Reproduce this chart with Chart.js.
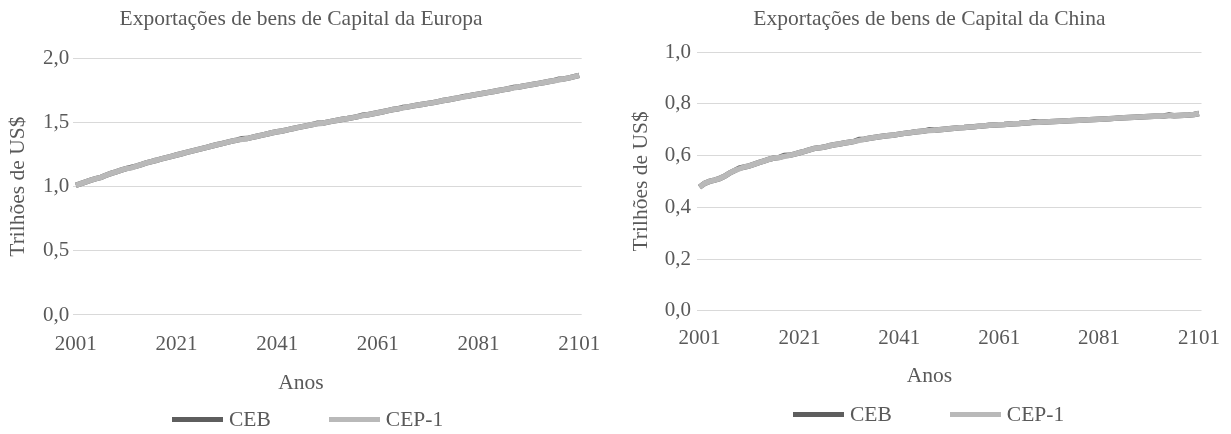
<!DOCTYPE html>
<html lang="pt">
<head>
<meta charset="utf-8">
<script src="https://cdn.jsdelivr.net/npm/chart.js@4.4.1/dist/chart.umd.min.js"></script>
<style>
  html, body { margin: 0; padding: 0; background: #fff; width: 1231px; height: 434px; overflow: hidden; }
  body { position: relative; }
  .panel { position: absolute; top: 0; height: 434px; }
  .panel canvas { display: block; }
  .legend { position: absolute; display: flex; align-items: center; height: 24px;
            font: 21.5px/24px 'Liberation Serif', 'Times New Roman', serif; color: #595959; white-space: nowrap; }
  .legend .item { display: flex; align-items: center; }
  .legend .item + .item { margin-left: 58px; }
  .legend .sw { display: inline-block; width: 51px; height: 5px; margin-right: 6px; }
</style>
</head>
<body>
<div class="panel" style="left:0;width:602px"><canvas id="chartEuropa" width="602" height="434"></canvas></div>
<div class="panel" style="left:624px;width:607px"><canvas id="chartChina" width="607" height="434"></canvas></div>
<div class="legend" id="legendEuropa" style="left:172px;top:407px"></div>
<div class="legend" id="legendChina" style="left:793px;top:402px"></div>

<script>
// Anos da projeção (2001 a 2101)
const firstYear = 2001;
const lastYear = 2101;
const years = Array.from({ length: lastYear - firstYear + 1 }, (_, i) => String(firstYear + i));

const seriesNames = ['CEB', 'CEP-1'];
const xTickLabels = ['2001', '2021', '2041', '2061', '2081', '2101'];
const yTicksEuropa = ['0,0', '0,5', '1,0', '1,5', '2,0'];
const yTicksChina = ['0,0', '0,2', '0,4', '0,6', '0,8', '1,0'];

// Exportações de bens de capital da Europa (trilhões de US$)
const europaCEB = [
  1.010, 1.024, 1.037, 1.050, 1.062, 1.072, 1.088, 1.103, 1.115, 1.128,
  1.140, 1.150, 1.160, 1.172, 1.184, 1.195, 1.205, 1.216, 1.226, 1.236,
  1.246, 1.256, 1.266, 1.276, 1.286, 1.296, 1.306, 1.316, 1.326, 1.335,
  1.345, 1.354, 1.362, 1.372, 1.374, 1.383, 1.392, 1.401, 1.410, 1.419,
  1.427, 1.433, 1.442, 1.451, 1.459, 1.467, 1.475, 1.483, 1.493, 1.494,
  1.502, 1.510, 1.517, 1.524, 1.530, 1.537, 1.545, 1.556, 1.560, 1.567,
  1.575, 1.583, 1.592, 1.600, 1.606, 1.617, 1.621, 1.629, 1.636, 1.642,
  1.648, 1.654, 1.662, 1.670, 1.677, 1.684, 1.691, 1.701, 1.706, 1.713,
  1.720, 1.727, 1.734, 1.741, 1.748, 1.755, 1.762, 1.773, 1.776, 1.783,
  1.790, 1.797, 1.804, 1.811, 1.818, 1.825, 1.836, 1.839, 1.847, 1.856,
  1.866
];
const europaCEP1 = [
  1.010, 1.024, 1.037, 1.050, 1.062, 1.072, 1.088, 1.103, 1.115, 1.128,
  1.140, 1.146, 1.160, 1.172, 1.184, 1.195, 1.205, 1.216, 1.226, 1.236,
  1.246, 1.256, 1.266, 1.276, 1.286, 1.296, 1.306, 1.316, 1.326, 1.335,
  1.345, 1.354, 1.362, 1.368, 1.374, 1.383, 1.392, 1.401, 1.410, 1.419,
  1.427, 1.433, 1.442, 1.451, 1.459, 1.467, 1.475, 1.483, 1.489, 1.494,
  1.502, 1.510, 1.517, 1.524, 1.530, 1.537, 1.545, 1.553, 1.560, 1.567,
  1.575, 1.583, 1.592, 1.600, 1.606, 1.613, 1.621, 1.629, 1.636, 1.642,
  1.648, 1.654, 1.662, 1.670, 1.677, 1.684, 1.691, 1.698, 1.706, 1.713,
  1.720, 1.727, 1.734, 1.741, 1.748, 1.755, 1.762, 1.769, 1.776, 1.783,
  1.790, 1.797, 1.804, 1.811, 1.818, 1.825, 1.832, 1.839, 1.847, 1.856,
  1.866
];

// Exportações de bens de capital da China (trilhões de US$)
const chinaCEB = [
  0.478, 0.492, 0.500, 0.505, 0.511, 0.520, 0.532, 0.542, 0.552, 0.556,
  0.560, 0.567, 0.574, 0.580, 0.586, 0.591, 0.593, 0.600, 0.601, 0.606,
  0.611, 0.616, 0.622, 0.628, 0.630, 0.633, 0.638, 0.642, 0.645, 0.649,
  0.652, 0.655, 0.662, 0.663, 0.667, 0.670, 0.673, 0.676, 0.678, 0.680,
  0.683, 0.686, 0.688, 0.691, 0.693, 0.695, 0.700, 0.698, 0.700, 0.702,
  0.704, 0.706, 0.708, 0.709, 0.711, 0.712, 0.714, 0.715, 0.717, 0.718,
  0.719, 0.720, 0.722, 0.723, 0.724, 0.726, 0.727, 0.731, 0.729, 0.730,
  0.731, 0.732, 0.733, 0.734, 0.735, 0.736, 0.737, 0.738, 0.739, 0.740,
  0.741, 0.742, 0.743, 0.744, 0.745, 0.746, 0.747, 0.748, 0.749, 0.750,
  0.751, 0.752, 0.752, 0.753, 0.757, 0.754, 0.755, 0.756, 0.757, 0.759,
  0.763
];
const chinaCEP1 = [
  0.478, 0.492, 0.500, 0.505, 0.511, 0.520, 0.532, 0.542, 0.549, 0.556,
  0.560, 0.567, 0.574, 0.580, 0.586, 0.591, 0.593, 0.597, 0.601, 0.606,
  0.611, 0.616, 0.622, 0.628, 0.630, 0.633, 0.638, 0.642, 0.645, 0.649,
  0.652, 0.655, 0.659, 0.663, 0.667, 0.670, 0.673, 0.676, 0.678, 0.680,
  0.683, 0.686, 0.688, 0.691, 0.693, 0.695, 0.697, 0.698, 0.700, 0.702,
  0.704, 0.706, 0.708, 0.709, 0.711, 0.712, 0.714, 0.715, 0.717, 0.718,
  0.719, 0.720, 0.722, 0.723, 0.724, 0.726, 0.727, 0.728, 0.729, 0.730,
  0.731, 0.732, 0.733, 0.734, 0.735, 0.736, 0.737, 0.738, 0.739, 0.740,
  0.741, 0.742, 0.743, 0.744, 0.745, 0.746, 0.747, 0.748, 0.749, 0.750,
  0.751, 0.752, 0.752, 0.753, 0.754, 0.754, 0.755, 0.756, 0.757, 0.759,
  0.763
];

const serif = "'Liberation Serif', 'Times New Roman', serif";
const textColor = '#595959';
const gridColor = '#d9d9d9';
const colorCEB = '#5e5e5e';
const colorCEP1 = '#b9b9b9';

Chart.defaults.font.family = serif;
Chart.defaults.color = textColor;

function makeChart(canvasId, cfg) {
  return new Chart(document.getElementById(canvasId), {
    type: 'line',
    data: {
      labels: years,
      datasets: [
        { label: seriesNames[0], data: cfg.ceb, borderColor: colorCEB, backgroundColor: colorCEB,
          borderWidth: 5.5, pointRadius: 0, tension: 0, order: 1 },
        { label: seriesNames[1], data: cfg.cep1, borderColor: colorCEP1, backgroundColor: colorCEP1,
          borderWidth: 5.5, pointRadius: 0, tension: 0, order: 0 }
      ]
    },
    options: {
      responsive: false,
      animation: false,
      events: [],
      layout: { padding: cfg.layoutPadding },
      plugins: {
        legend: { display: false },
        tooltip: { enabled: false },
        title: {
          display: true, text: cfg.title, color: textColor,
          font: { family: serif, size: 21.5, weight: 'normal' },
          padding: cfg.titlePadding
        },
        subtitle: {
          display: true, text: 'Anos', position: 'bottom', color: textColor,
          font: { family: serif, size: 21.5, weight: 'normal' },
          padding: cfg.xTitlePadding
        }
      },
      scales: {
        x: {
          type: 'category',
          offset: true,
          grid: { display: false, drawTicks: false },
          border: { display: false },
          ticks: {
            autoSkip: false, maxRotation: 0, minRotation: 0,
            padding: cfg.xTickPadding, color: textColor,
            font: { family: serif, size: 21 },
            callback(value) {
              const lab = this.getLabelForValue(value);
              return xTickLabels.includes(lab) ? lab : null;
            }
          },
          afterFit(scale) {
            scale.paddingRight = cfg.plotRightInset;
            scale.height = cfg.xAxisHeight;
          }
        },
        y: {
          min: 0, max: cfg.yMax,
          grid: { color: gridColor, lineWidth: 1, drawTicks: false },
          border: { display: false },
          ticks: {
            stepSize: cfg.yStep, padding: cfg.yTickPadding, color: textColor,
            font: { family: serif, size: 21 },
            callback(value, index) { return cfg.yTicks[index]; }
          },
          title: {
            display: true, text: 'Trilhões de US$', color: textColor,
            font: { family: serif, size: 21.5, weight: 'normal' },
            padding: cfg.yTitlePadding
          },
          afterFit(scale) { scale.width = cfg.yAxisWidth; }
        }
      }
    }
  });
}

function buildLegend(chart, elId) {
  const box = document.getElementById(elId);
  chart.data.datasets.forEach(ds => {
    const item = document.createElement('span');
    item.className = 'item';
    const sw = document.createElement('span');
    sw.className = 'sw';
    sw.style.background = ds.borderColor;
    const txt = document.createElement('span');
    txt.textContent = ds.label;
    item.appendChild(sw);
    item.appendChild(txt);
    box.appendChild(item);
  });
}

const chartEuropa = makeChart('chartEuropa', {
  title: 'Exportações de bens de Capital da Europa',
  ceb: europaCEB, cep1: europaCEP1,
  yMax: 2, yStep: 0.5, yTicks: yTicksEuropa,
  layoutPadding: { left: 0, right: 0, top: 0, bottom: 38.1 },
  titlePadding: { top: 6.7, bottom: 25.7 },
  xTitlePadding: { top: 12.9, bottom: 0 },
  xTickPadding: 17,
  xAxisHeight: 42.2,
  yTickPadding: 4,
  yTitlePadding: { top: 5.6, bottom: 0 },
  yAxisWidth: 73.3,
  plotRightInset: 20.3
});

const chartChina = makeChart('chartChina', {
  title: 'Exportações de bens de Capital da China',
  ceb: chinaCEB, cep1: chinaCEP1,
  yMax: 1, yStep: 0.2, yTicks: yTicksChina,
  layoutPadding: { left: 4, right: 0, top: 0, bottom: 45.1 },
  titlePadding: { top: 6.7, bottom: 19.7 },
  xTitlePadding: { top: 11.7, bottom: 0 },
  xTickPadding: 15.5,
  xAxisHeight: 40.7,
  yTickPadding: 6,
  yTitlePadding: { top: 0.1, bottom: 0 },
  yAxisWidth: 69,
  plotRightInset: 29.5
});

buildLegend(chartEuropa, 'legendEuropa');
buildLegend(chartChina, 'legendChina');
</script>
</body>
</html>
